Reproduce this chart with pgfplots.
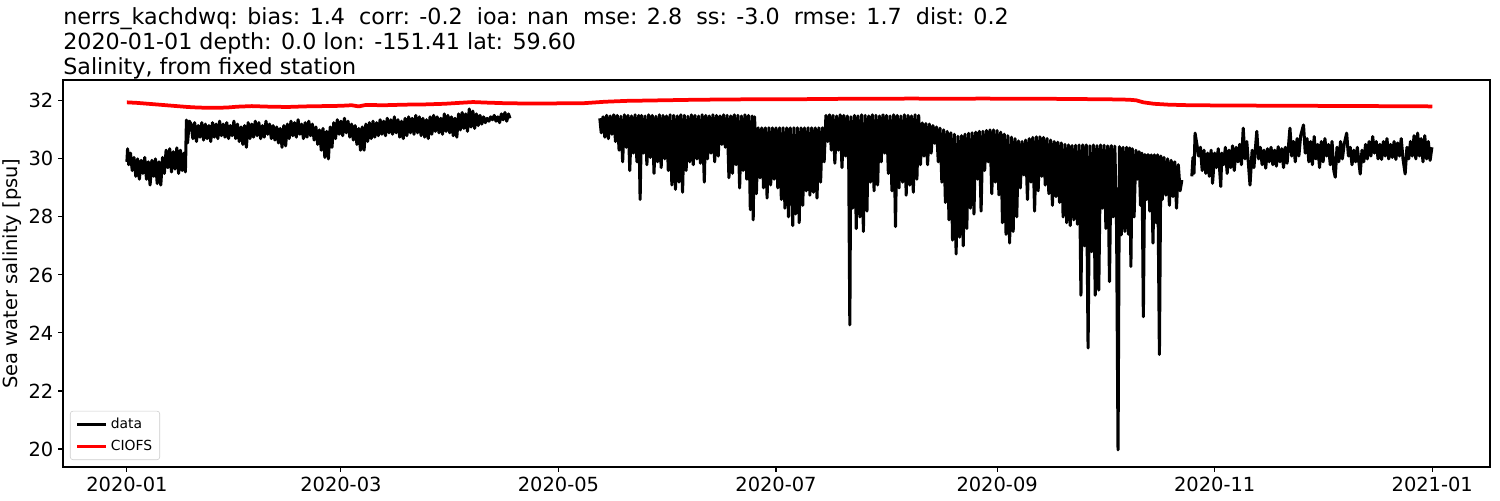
\documentclass[border=0pt]{standalone}
\usepackage{fontspec}
\setmainfont{DejaVu Sans}
\usepackage{pgfplots}
\pgfplotsset{compat=1.18}
\definecolor{legframe}{RGB}{204,204,204}

\pgfplotstableread{
x y
0.0 29.90
0.2 30.35
0.5 29.80
1.0 30.20
1.5 29.60
2.0 30.05
2.5 29.40
3.0 30.00
3.5 29.30
4.0 29.95
4.5 29.50
5.0 30.05
5.5 29.30
6.0 29.90
6.5 29.10
7.0 29.95
7.5 29.40
8.0 30.00
8.5 29.15
9.0 29.90
9.5 29.10
10.0 30.05
10.5 29.50
11.0 30.30
11.5 29.70
12.0 30.35
12.5 29.55
13.0 30.25
13.5 29.65
14.0 30.38
14.5 29.50
15.0 30.30
15.5 29.60
16.0 30.20
16.4 29.55
16.7 31.34
17.0 30.55
17.5 31.30
18.0 31.20
18.5 30.70
19.0 31.25
19.5 30.60
20.0 31.15
20.5 30.75
21.0 31.25
21.5 30.65
22.0 31.20
22.5 30.70
23.0 31.15
23.5 30.60
24.0 31.25
24.5 30.75
25.0 31.20
25.5 30.70
26.0 31.30
26.5 30.80
27.0 31.20
27.5 30.75
28.0 31.25
28.5 30.70
29.0 31.15
29.5 30.80
30.0 31.30
30.5 30.70
31.0 31.20
31.5 30.60
32.0 31.10
32.5 30.50
33.0 31.15
33.5 30.40
34.0 31.25
34.5 30.70
35.0 31.20
35.5 30.75
36.0 31.30
36.5 30.80
37.0 31.25
37.5 30.70
38.0 31.15
38.5 30.75
39.0 31.30
39.5 30.85
40.0 31.20
40.5 30.70
41.0 31.15
41.5 30.65
42.0 31.10
42.5 30.55
43.0 31.05
43.5 30.40
44.0 31.15
44.5 30.45
45.0 31.20
45.5 30.70
46.0 31.30
46.5 30.80
47.0 31.25
47.5 30.75
48.0 31.35
48.5 30.85
49.0 31.20
49.5 30.70
50.0 31.25
50.5 30.75
51.0 31.30
51.5 30.80
52.0 31.20
52.5 30.65
53.0 31.10
53.5 30.50
54.0 31.00
54.5 30.30
55.0 31.05
55.5 30.05
56.0 30.95
56.5 30.00
57.0 31.10
57.5 30.40
58.0 31.25
58.5 30.70
59.0 31.35
59.5 30.85
60.0 31.30
60.5 30.80
61.0 31.40
61.5 30.90
62.0 31.30
62.5 30.75
63.0 31.20
63.5 30.65
64.0 31.15
64.5 30.50
65.0 31.05
65.5 30.30
66.0 31.10
66.5 30.30
67.0 31.20
67.5 30.60
68.0 31.25
68.5 30.70
69.0 31.30
69.5 30.75
70.0 31.25
70.5 30.80
71.0 31.35
71.5 30.85
72.0 31.30
72.5 30.80
73.0 31.40
73.5 30.90
74.0 31.35
74.5 30.85
75.0 31.45
75.5 30.90
76.0 31.35
76.5 30.75
77.0 31.30
77.5 30.70
78.0 31.40
78.5 30.80
79.0 31.45
79.5 30.90
80.0 31.40
80.5 30.85
81.0 31.50
81.5 30.90
82.0 31.45
82.5 30.80
83.0 31.40
83.5 30.75
84.0 31.35
84.5 30.70
85.0 31.45
85.5 30.85
86.0 31.50
86.5 30.95
87.0 31.45
87.5 30.90
88.0 31.40
88.5 30.85
89.0 31.55
89.5 30.95
90.0 31.50
90.5 30.90
91.0 31.45
91.5 30.80
92.0 31.40
92.5 30.75
93.0 31.55
93.5 31.00
94.0 31.60
94.5 31.05
95.0 31.55
95.5 30.95
96.0 31.72
96.5 31.10
97.0 31.65
97.5 31.05
98.0 31.55
98.5 31.15
99.0 31.50
99.5 31.20
100.0 31.45
100.5 31.25
101.0 31.40
101.5 31.30
102.0 31.45
102.5 31.35
103.0 31.50
103.5 31.30
104.0 31.45
104.5 31.25
105.0 31.55
105.5 31.35
106.0 31.60
106.5 31.30
107.0 31.55
107.4 31.40
}\segA

\pgfplotstableread{
x y
132.6 31.40
133.0 30.90
133.5 31.45
134.0 30.75
134.5 31.50
135.0 30.70
135.5 31.48
136.0 30.85
136.5 31.52
137.0 30.60
137.5 31.50
138.0 30.30
138.5 31.47
139.0 29.90
139.5 31.52
140.0 30.40
140.5 31.50
141.0 29.60
141.5 31.48
142.0 30.20
142.5 31.52
143.0 29.90
143.5 31.50
143.9 28.60
144.3 31.50
144.8 30.20
145.3 31.48
145.8 29.80
146.3 31.52
146.8 30.05
147.3 31.50
147.8 29.50
148.3 31.47
148.8 29.90
149.3 31.52
149.8 29.70
150.3 31.50
150.8 30.00
151.3 31.48
151.8 29.60
152.3 31.52
152.8 29.10
153.3 31.50
153.8 28.95
154.3 31.48
154.8 29.20
155.3 31.52
155.8 28.85
156.3 31.50
156.8 29.60
157.3 31.47
157.8 29.90
158.3 31.52
158.8 29.80
159.3 31.50
159.8 30.00
160.3 31.48
160.8 29.85
161.3 31.52
161.9 29.20
162.3 31.50
162.8 30.00
163.3 31.48
163.8 30.20
164.3 31.52
164.8 29.90
165.3 31.50
165.8 30.10
166.3 31.48
166.8 30.50
167.3 31.52
167.8 30.40
168.3 31.50
168.8 29.35
169.3 31.48
169.8 29.50
170.3 31.52
170.8 29.80
171.3 31.50
171.8 29.00
172.3 31.48
172.8 29.60
173.3 31.52
173.8 29.30
174.3 31.50
174.8 28.25
175.3 31.48
175.6 27.90
176.0 31.45
176.5 28.80
177.0 31.07
177.5 29.35
178.0 31.07
178.5 29.00
179.0 31.07
179.5 28.65
180.0 31.07
180.5 29.10
181.0 31.07
181.5 29.30
182.0 31.07
182.5 29.00
183.0 31.07
183.5 28.60
184.0 31.07
184.5 28.30
185.0 31.07
185.5 28.00
186.0 31.07
186.7 27.70
187.0 31.07
187.5 28.10
188.0 31.07
188.5 27.80
189.0 31.07
189.5 28.40
190.0 31.07
190.5 28.90
191.0 31.07
191.5 28.75
192.0 31.07
192.5 28.85
193.0 31.07
193.5 28.65
194.0 31.07
194.5 29.20
195.0 31.07
195.5 29.90
196.0 31.50
196.5 30.60
197.0 31.52
197.5 30.30
198.0 31.50
198.5 29.85
199.0 31.48
199.5 30.30
200.0 31.52
200.5 29.70
201.0 31.50
201.5 30.10
202.0 31.48
202.4 29.70
202.7 24.28
203.0 31.45
203.5 28.30
204.0 31.50
204.5 27.60
205.0 31.48
205.5 28.00
206.0 31.52
206.5 27.50
207.0 31.50
207.5 28.20
208.0 31.48
208.5 29.20
209.0 31.52
209.5 28.90
210.0 31.50
210.5 29.10
211.0 31.48
211.5 29.90
212.0 31.52
212.5 30.20
213.0 31.50
213.5 29.50
214.0 31.48
214.5 28.90
215.0 31.52
215.5 27.67
216.0 31.50
216.5 29.00
217.0 31.48
217.5 29.20
218.0 31.52
218.5 28.75
219.0 31.50
219.5 29.10
220.0 31.48
220.5 28.85
221.0 31.52
221.5 29.30
222.0 31.50
222.5 29.80
223.0 31.24
223.5 30.10
224.0 31.22
224.5 29.80
225.0 31.20
225.5 30.20
226.0 31.15
226.5 30.54
227.0 31.10
227.5 29.90
228.0 31.06
228.5 29.20
229.0 31.00
229.5 28.50
230.0 30.95
230.5 27.90
231.0 30.90
231.5 27.20
232.0 30.85
232.5 26.72
233.0 30.78
233.5 27.30
234.0 30.80
234.5 27.00
235.0 30.85
235.5 27.60
236.0 30.88
236.5 28.30
237.0 30.90
237.5 28.10
238.0 30.92
238.5 29.30
239.0 30.95
239.5 28.20
240.0 30.95
240.5 29.60
241.0 30.98
241.5 29.90
242.0 31.00
242.5 28.80
243.0 31.00
243.5 29.20
244.0 30.98
244.5 28.76
245.0 30.92
245.5 27.80
246.0 30.85
246.5 27.40
247.0 30.80
247.5 27.10
248.0 30.75
248.5 27.50
249.0 30.70
249.5 28.00
250.0 30.62
250.5 29.00
251.0 30.60
251.5 29.45
252.0 30.65
252.5 28.60
253.0 30.70
253.5 29.20
254.0 30.74
254.5 28.20
255.0 30.76
255.5 28.90
256.0 30.76
256.5 29.40
257.0 30.74
257.5 29.10
258.0 30.70
258.5 28.80
259.0 30.65
259.5 28.40
260.0 30.60
260.5 28.70
261.0 30.58
261.5 28.50
262.0 30.55
262.5 28.00
263.0 30.50
263.5 27.80
264.0 30.48
264.5 27.70
265.0 30.46
265.5 27.90
266.0 30.47
266.5 27.75
267.0 30.48
267.5 25.30
268.0 30.48
268.5 27.00
269.0 30.48
269.5 23.48
270.0 30.45
270.5 26.80
271.0 30.48
271.5 25.30
272.0 30.46
272.5 25.48
273.0 30.48
273.5 28.30
274.0 30.47
274.5 27.60
275.0 30.45
275.5 25.77
276.0 30.46
276.5 28.00
277.0 30.44
277.5 27.60
277.9 19.97
278.3 30.42
278.8 27.38
279.3 30.40
279.8 27.50
280.3 30.40
280.8 27.40
281.2 30.38
281.5 26.29
281.9 30.35
282.4 28.00
282.9 30.30
283.3 29.30
283.8 30.25
284.2 28.40
284.6 30.20
285.0 24.56
285.4 30.15
285.9 28.60
286.3 30.15
286.8 28.20
287.2 30.14
287.7 27.10
288.1 30.14
288.6 27.80
289.0 30.14
289.5 23.26
289.9 30.10
290.3 28.60
290.8 30.05
291.3 28.75
291.8 30.00
292.3 28.40
292.8 29.95
293.3 28.70
293.8 29.90
294.3 28.30
294.8 29.80
295.3 28.90
295.8 29.27
}\segB

\pgfplotstableread{
x y
298.6 29.40
298.9 30.05
299.2 29.50
299.5 30.89
300.0 30.50
300.5 30.10
301.0 30.40
301.5 29.60
302.0 30.30
302.5 29.50
303.0 30.20
303.5 29.40
304.0 30.30
304.4 29.16
305.0 30.20
305.5 29.70
306.0 30.35
306.7 29.05
307.0 30.20
307.5 29.80
308.0 30.40
308.5 29.50
309.0 30.30
309.5 29.70
310.0 30.45
310.5 29.60
311.0 30.40
311.5 29.90
312.0 30.50
312.5 29.80
313.0 31.06
313.5 30.00
314.0 30.60
314.9 29.10
315.5 30.30
316.0 29.70
316.8 30.95
317.3 30.00
317.8 30.40
318.3 29.80
318.8 30.30
319.3 29.68
319.8 30.35
320.3 29.90
320.8 30.40
321.3 29.80
321.8 30.30
322.3 29.75
322.8 30.42
323.3 29.90
323.8 30.35
324.3 29.70
324.8 30.40
325.3 29.85
326.1 31.06
326.6 30.10
327.1 30.60
327.6 29.90
328.1 30.70
328.6 30.10
329.1 30.80
329.9 31.17
330.4 30.20
330.9 30.70
331.4 29.90
331.9 30.60
332.4 29.80
332.9 30.77
333.4 30.00
333.9 30.50
334.4 29.70
334.9 30.60
335.4 29.90
335.9 30.70
336.4 30.10
336.9 30.50
337.4 29.80
337.9 30.60
338.4 29.60
338.8 29.37
339.3 30.40
339.8 29.90
340.3 30.60
340.8 30.00
341.3 30.50
342.0 30.89
342.5 30.10
343.0 30.40
343.5 29.80
344.0 30.30
344.5 29.90
345.0 30.40
345.8 29.48
346.3 30.30
346.8 29.90
347.3 30.50
347.8 30.00
348.3 30.60
348.8 30.10
349.3 30.77
349.8 30.20
350.3 30.60
350.8 30.00
351.3 30.50
351.8 29.98
352.3 30.60
352.8 30.10
353.3 30.70
353.8 30.00
354.3 30.50
354.8 30.05
355.3 30.60
355.8 29.98
356.3 30.55
356.8 30.10
357.3 30.70
357.8 30.00
358.4 29.48
358.9 30.40
359.4 30.00
359.9 30.60
360.4 30.10
360.9 30.80
361.4 30.00
361.9 30.89
362.4 30.10
362.9 30.70
363.4 29.90
363.9 30.80
364.4 30.00
364.9 30.60
365.4 29.95
365.9 30.40
}\segC

\pgfplotstableread{
x y
0 31.95
3 31.93
6 31.90
10 31.86
14 31.82
17 31.79
20 31.77
24 31.76
28 31.77
31 31.80
35 31.82
40 31.80
45 31.79
50 31.81
55 31.82
60 31.83
63 31.85
65 31.81
67 31.86
72 31.85
78 31.87
84 31.88
89 31.90
93 31.93
97 31.96
101 31.94
106 31.92
112 31.91
118 31.91
124 31.92
128 31.92
134 31.97
140 32.00
150 32.02
160 32.04
170 32.05
180 32.06
190 32.06
200 32.07
210 32.07
220 32.08
230 32.07
240 32.08
250 32.07
260 32.07
270 32.06
278 32.05
281 32.04
283 32.02
285 31.95
288 31.90
292 31.87
298 31.85
310 31.84
330 31.83
350 31.82
366 31.81
}\ciofs

\begin{document}
\begin{tikzpicture}
\useasboundingbox (-45.4pt,-23.8pt) rectangle (1034.6pt,336.2pt);
\begin{axis}[name=ax, at={(0,0)}, anchor=south west,
  scale only axis, width=1027.4pt, height=278.6pt,
  xmin=-17.9, xmax=382.2, ymin=19.38, ymax=32.72,
  xtick={0,60,121,182,244,305,366},
  xticklabels={2020-01,2020-03,2020-05,2020-07,2020-09,2020-11,2021-01},
  ytick={20,22,24,26,28,30,32},
  tick align=outside, xtick pos=lower, ytick pos=left,
  major tick length=3.5pt,
  tick style={line width=0.8pt, black},
  axis line style={line width=0.8pt},
  tick label style={font=\fontsize{14}{16}\selectfont},
  /pgf/number format/assume math mode=true,
  ylabel={Sea water salinity [psu]},
  every axis y label/.style={at={(axis description cs:-0.0358,0.5)}, rotate=90, anchor=center, font=\fontsize{14}{16}\selectfont},
  legend style={at={(axis description cs:0,0)}, anchor=south west, xshift=5pt, yshift=5pt,
    draw=legframe, rounded corners=2pt, font=\fontsize{10}{12}\selectfont,
    inner xsep=3.5pt, inner ysep=3pt, row sep=3pt},
  legend cell align=left,
  legend image code/.code={\draw[#1] (0pt,0pt) -- (21pt,0pt);},
]
\addplot[black, line width=2.2pt, line join=round] table {\segA};
\addplot[black, line width=2.2pt, line join=round, forget plot] table {\segB};
\addplot[black, line width=2.2pt, line join=round, forget plot] table {\segC};
\addplot[red, line width=2.7pt, line join=round] table {\ciofs};
\legend{data, CIOFS}
\end{axis}
\node[anchor=base west, inner sep=0pt, font=\fontsize{16}{18}\selectfont] at ([yshift=40.3pt]ax.north west) {nerrs\_kachdwq: bias: 1.4\ \ corr: -0.2\ \ ioa: nan\ \ mse: 2.8\ \ ss: -3.0\ \ rmse: 1.7\ \ dist: 0.2};
\node[anchor=base west, inner sep=0pt, font=\fontsize{16}{18}\selectfont] at ([yshift=22.1pt]ax.north west) {2020-01-01 depth: 0.0 lon: -151.41 lat: 59.60};
\node[anchor=base west, inner sep=0pt, font=\fontsize{16}{18}\selectfont] at ([yshift=4pt]ax.north west) {Salinity, from fixed station};
\end{tikzpicture}
\end{document}
